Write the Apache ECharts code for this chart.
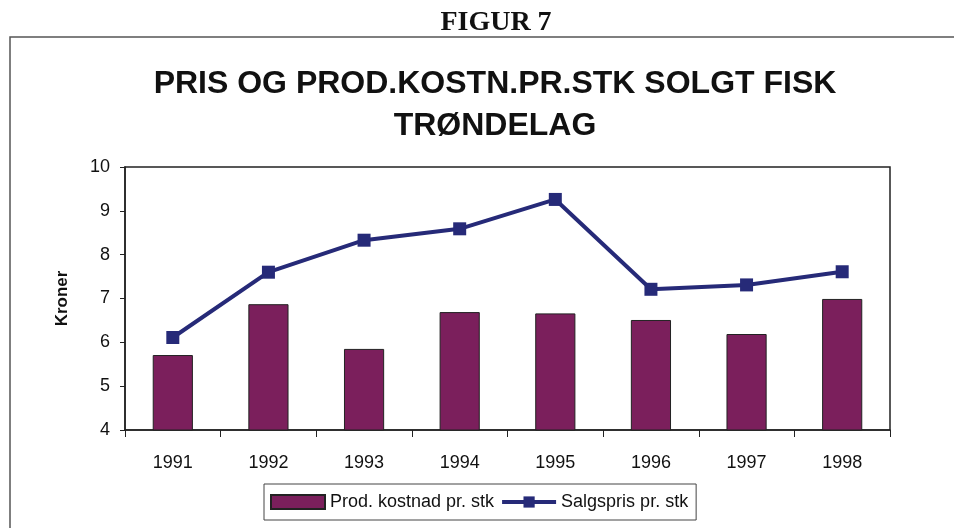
<!DOCTYPE html>
<html>
<head>
<meta charset="utf-8">
<script src="https://cdn.jsdelivr.net/npm/echarts@6/dist/echarts.min.js"></script>
<style>
  html, body { margin: 0; padding: 0; background: #fff; }
  #chart { width: 954px; height: 528px; }
</style>
</head>
<body>
<div id="chart"></div>
<script>
// data
var years = ['1991', '1992', '1993', '1994', '1995', '1996', '1997', '1998'];
var prodKostnad = [5.71, 6.87, 5.85, 6.69, 6.66, 6.51, 6.19, 6.99];
var salgspris = [6.11, 7.60, 8.33, 8.59, 9.26, 7.21, 7.31, 7.61];
var yTicks = [4, 5, 6, 7, 8, 9, 10];

var font = '"Liberation Sans", Arial, sans-serif';

var chart = echarts.init(document.getElementById('chart'));
chart.setOption({
    animation: false,
    backgroundColor: '#fff',
    title: [
        {
            text: 'FIGUR 7',
            left: 491,
            textAlign: 'center',
            top: 4,
            textStyle: { fontFamily: '"Liberation Serif", "Times New Roman", serif', fontSize: 28, fontWeight: 'bold', color: '#111' }
        },
        {
            text: 'PRIS OG PROD.KOSTN.PR.STK SOLGT FISK\nTRØNDELAG',
            left: 490,
            textAlign: 'center',
            top: 58,
            textStyle: { fontFamily: font, fontSize: 32, fontWeight: 'bold', color: '#111', lineHeight: 42 }
        }
    ],
    graphic: [
        {
            type: 'rect',
            shape: { x: 10, y: 37, width: 1000, height: 600 },
            style: { fill: 'none', stroke: '#555', lineWidth: 1.5 },
            z: -1
        }
    ],
    legend: {
        left: 264,
        top: 484,
        orient: 'horizontal',
        itemWidth: 54,
        itemHeight: 14,
        itemGap: 6,
        padding: [9, 8, 9, 6],
        borderColor: '#444',
        borderWidth: 1,
        textStyle: { fontFamily: font, fontSize: 18, color: '#111' },
        data: [
            { name: 'Prod. kostnad pr. stk', icon: 'rect' },
            { name: 'Salgspris pr. stk', itemStyle: { color: '#262A78' }, lineStyle: { width: 4, color: '#262A78' } }
        ]
    },
    grid: {
        left: 125,
        top: 167,
        right: 64,
        bottom: 98,
        show: true,
        borderColor: '#222',
        borderWidth: 1.5
    },
    xAxis: {
        type: 'category',
        data: years,
        axisLine: { lineStyle: { color: '#222', width: 1.5 } },
        axisTick: { show: true, length: 7, lineStyle: { color: '#222' } },
        axisLabel: { fontFamily: font, fontSize: 18, color: '#111', margin: 24 }
    },
    yAxis: {
        type: 'value',
        min: yTicks[0],
        max: yTicks[yTicks.length - 1],
        interval: 1,
        name: 'Kroner',
        nameLocation: 'middle',
        nameGap: 54,
        nameRotate: 90,
        nameTextStyle: { fontFamily: font, fontSize: 17, fontWeight: 'bold', color: '#111' },
        axisLine: { show: true, lineStyle: { color: '#222', width: 1.5 } },
        axisTick: { show: true, length: 5, lineStyle: { color: '#222' } },
        splitLine: { show: false },
        axisLabel: { fontFamily: font, fontSize: 18, color: '#111', margin: 15 }
    },
    series: [
        {
            name: 'Prod. kostnad pr. stk',
            type: 'bar',
            data: prodKostnad,
            barWidth: '42%',
            itemStyle: { color: '#7B1F5C', borderColor: '#222', borderWidth: 1 }
        },
        {
            name: 'Salgspris pr. stk',
            type: 'line',
            data: salgspris,
            symbol: 'rect',
            symbolSize: 13,
            lineStyle: { color: '#262A78', width: 4 },
            itemStyle: { color: '#262A78' },
            z: 3
        }
    ]
});
</script>
</body>
</html>
